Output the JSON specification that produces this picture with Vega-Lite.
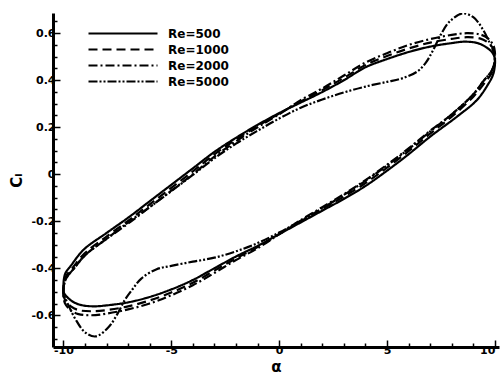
{
  "$schema": "https://vega.github.io/schema/vega-lite/v6.json",
  "width": 446,
  "height": 334,
  "autosize": {"type": "none"},
  "padding": {"left": 53, "top": 13, "right": 1, "bottom": 29},
  "background": "white",
  "config": {"view": {"stroke": null}},
  "data": {"values": [
    {"re":"Re=500","i":0,"alpha":-10,"cl":-0.50},
    {"re":"Re=500","i":1,"alpha":-9.98,"cl":-0.45},
    {"re":"Re=500","i":2,"alpha":-9.9,"cl":-0.42},
    {"re":"Re=500","i":3,"alpha":-9.66,"cl":-0.39},
    {"re":"Re=500","i":4,"alpha":-9.05,"cl":-0.32},
    {"re":"Re=500","i":5,"alpha":-8,"cl":-0.25},
    {"re":"Re=500","i":6,"alpha":-7,"cl":-0.185},
    {"re":"Re=500","i":7,"alpha":-6,"cl":-0.115},
    {"re":"Re=500","i":8,"alpha":-5,"cl":-0.045},
    {"re":"Re=500","i":9,"alpha":-4,"cl":0.025},
    {"re":"Re=500","i":10,"alpha":-3,"cl":0.095},
    {"re":"Re=500","i":11,"alpha":-2,"cl":0.155},
    {"re":"Re=500","i":12,"alpha":-1,"cl":0.21},
    {"re":"Re=500","i":13,"alpha":0,"cl":0.26},
    {"re":"Re=500","i":14,"alpha":1,"cl":0.305},
    {"re":"Re=500","i":15,"alpha":2,"cl":0.35},
    {"re":"Re=500","i":16,"alpha":3,"cl":0.40},
    {"re":"Re=500","i":17,"alpha":4,"cl":0.455},
    {"re":"Re=500","i":18,"alpha":5,"cl":0.49},
    {"re":"Re=500","i":19,"alpha":6,"cl":0.52},
    {"re":"Re=500","i":20,"alpha":7,"cl":0.543},
    {"re":"Re=500","i":21,"alpha":8,"cl":0.558},
    {"re":"Re=500","i":22,"alpha":8.6,"cl":0.564},
    {"re":"Re=500","i":23,"alpha":9.2,"cl":0.558},
    {"re":"Re=500","i":24,"alpha":9.6,"cl":0.54},
    {"re":"Re=500","i":25,"alpha":9.9,"cl":0.515},
    {"re":"Re=500","i":26,"alpha":10,"cl":0.49},
    {"re":"Re=500","i":27,"alpha":9.98,"cl":0.45},
    {"re":"Re=500","i":28,"alpha":9.9,"cl":0.42},
    {"re":"Re=500","i":29,"alpha":9.7,"cl":0.385},
    {"re":"Re=500","i":30,"alpha":9.17,"cl":0.316},
    {"re":"Re=500","i":31,"alpha":8.24,"cl":0.245},
    {"re":"Re=500","i":32,"alpha":7,"cl":0.16},
    {"re":"Re=500","i":33,"alpha":6,"cl":0.085},
    {"re":"Re=500","i":34,"alpha":5,"cl":0.015},
    {"re":"Re=500","i":35,"alpha":4,"cl":-0.05},
    {"re":"Re=500","i":36,"alpha":3,"cl":-0.105},
    {"re":"Re=500","i":37,"alpha":2,"cl":-0.155},
    {"re":"Re=500","i":38,"alpha":1,"cl":-0.205},
    {"re":"Re=500","i":39,"alpha":0,"cl":-0.255},
    {"re":"Re=500","i":40,"alpha":-1,"cl":-0.305},
    {"re":"Re=500","i":41,"alpha":-2,"cl":-0.35},
    {"re":"Re=500","i":42,"alpha":-3,"cl":-0.40},
    {"re":"Re=500","i":43,"alpha":-4,"cl":-0.45},
    {"re":"Re=500","i":44,"alpha":-5,"cl":-0.49},
    {"re":"Re=500","i":45,"alpha":-6,"cl":-0.522},
    {"re":"Re=500","i":46,"alpha":-7,"cl":-0.545},
    {"re":"Re=500","i":47,"alpha":-8,"cl":-0.558},
    {"re":"Re=500","i":48,"alpha":-8.6,"cl":-0.562},
    {"re":"Re=500","i":49,"alpha":-9.2,"cl":-0.556},
    {"re":"Re=500","i":50,"alpha":-9.6,"cl":-0.54},
    {"re":"Re=500","i":51,"alpha":-9.9,"cl":-0.515},
    {"re":"Re=500","i":52,"alpha":-10,"cl":-0.50},

    {"re":"Re=1000","i":0,"alpha":-10,"cl":-0.51},
    {"re":"Re=1000","i":1,"alpha":-9.97,"cl":-0.46},
    {"re":"Re=1000","i":2,"alpha":-9.85,"cl":-0.43},
    {"re":"Re=1000","i":3,"alpha":-9.55,"cl":-0.395},
    {"re":"Re=1000","i":4,"alpha":-9,"cl":-0.335},
    {"re":"Re=1000","i":5,"alpha":-8,"cl":-0.265},
    {"re":"Re=1000","i":6,"alpha":-7,"cl":-0.198},
    {"re":"Re=1000","i":7,"alpha":-6,"cl":-0.128},
    {"re":"Re=1000","i":8,"alpha":-5,"cl":-0.058},
    {"re":"Re=1000","i":9,"alpha":-4,"cl":0.012},
    {"re":"Re=1000","i":10,"alpha":-3,"cl":0.085},
    {"re":"Re=1000","i":11,"alpha":-2,"cl":0.148},
    {"re":"Re=1000","i":12,"alpha":-1,"cl":0.205},
    {"re":"Re=1000","i":13,"alpha":0,"cl":0.258},
    {"re":"Re=1000","i":14,"alpha":1,"cl":0.31},
    {"re":"Re=1000","i":15,"alpha":2,"cl":0.358},
    {"re":"Re=1000","i":16,"alpha":3,"cl":0.41},
    {"re":"Re=1000","i":17,"alpha":4,"cl":0.465},
    {"re":"Re=1000","i":18,"alpha":5,"cl":0.503},
    {"re":"Re=1000","i":19,"alpha":6,"cl":0.535},
    {"re":"Re=1000","i":20,"alpha":7,"cl":0.56},
    {"re":"Re=1000","i":21,"alpha":8,"cl":0.576},
    {"re":"Re=1000","i":22,"alpha":8.7,"cl":0.583},
    {"re":"Re=1000","i":23,"alpha":9.3,"cl":0.578},
    {"re":"Re=1000","i":24,"alpha":9.65,"cl":0.562},
    {"re":"Re=1000","i":25,"alpha":9.92,"cl":0.535},
    {"re":"Re=1000","i":26,"alpha":10,"cl":0.505},
    {"re":"Re=1000","i":27,"alpha":9.97,"cl":0.46},
    {"re":"Re=1000","i":28,"alpha":9.85,"cl":0.43},
    {"re":"Re=1000","i":29,"alpha":9.55,"cl":0.392},
    {"re":"Re=1000","i":30,"alpha":9,"cl":0.33},
    {"re":"Re=1000","i":31,"alpha":8,"cl":0.245},
    {"re":"Re=1000","i":32,"alpha":7,"cl":0.173},
    {"re":"Re=1000","i":33,"alpha":6,"cl":0.098},
    {"re":"Re=1000","i":34,"alpha":5,"cl":0.028},
    {"re":"Re=1000","i":35,"alpha":4,"cl":-0.038},
    {"re":"Re=1000","i":36,"alpha":3,"cl":-0.095},
    {"re":"Re=1000","i":37,"alpha":2,"cl":-0.148},
    {"re":"Re=1000","i":38,"alpha":1,"cl":-0.2},
    {"re":"Re=1000","i":39,"alpha":0,"cl":-0.255},
    {"re":"Re=1000","i":40,"alpha":-1,"cl":-0.31},
    {"re":"Re=1000","i":41,"alpha":-2,"cl":-0.358},
    {"re":"Re=1000","i":42,"alpha":-3,"cl":-0.41},
    {"re":"Re=1000","i":43,"alpha":-4,"cl":-0.462},
    {"re":"Re=1000","i":44,"alpha":-5,"cl":-0.503},
    {"re":"Re=1000","i":45,"alpha":-6,"cl":-0.537},
    {"re":"Re=1000","i":46,"alpha":-7,"cl":-0.562},
    {"re":"Re=1000","i":47,"alpha":-8,"cl":-0.578},
    {"re":"Re=1000","i":48,"alpha":-8.7,"cl":-0.583},
    {"re":"Re=1000","i":49,"alpha":-9.3,"cl":-0.578},
    {"re":"Re=1000","i":50,"alpha":-9.65,"cl":-0.562},
    {"re":"Re=1000","i":51,"alpha":-9.92,"cl":-0.535},
    {"re":"Re=1000","i":52,"alpha":-10,"cl":-0.51},

    {"re":"Re=2000","i":0,"alpha":-10,"cl":-0.52},
    {"re":"Re=2000","i":1,"alpha":-9.97,"cl":-0.47},
    {"re":"Re=2000","i":2,"alpha":-9.85,"cl":-0.44},
    {"re":"Re=2000","i":3,"alpha":-9.5,"cl":-0.40},
    {"re":"Re=2000","i":4,"alpha":-9,"cl":-0.345},
    {"re":"Re=2000","i":5,"alpha":-8,"cl":-0.275},
    {"re":"Re=2000","i":6,"alpha":-7,"cl":-0.21},
    {"re":"Re=2000","i":7,"alpha":-6,"cl":-0.14},
    {"re":"Re=2000","i":8,"alpha":-5,"cl":-0.07},
    {"re":"Re=2000","i":9,"alpha":-4,"cl":0.0},
    {"re":"Re=2000","i":10,"alpha":-3,"cl":0.075},
    {"re":"Re=2000","i":11,"alpha":-2,"cl":0.14},
    {"re":"Re=2000","i":12,"alpha":-1,"cl":0.20},
    {"re":"Re=2000","i":13,"alpha":0,"cl":0.255},
    {"re":"Re=2000","i":14,"alpha":1,"cl":0.315},
    {"re":"Re=2000","i":15,"alpha":2,"cl":0.365},
    {"re":"Re=2000","i":16,"alpha":3,"cl":0.42},
    {"re":"Re=2000","i":17,"alpha":4,"cl":0.475},
    {"re":"Re=2000","i":18,"alpha":5,"cl":0.515},
    {"re":"Re=2000","i":19,"alpha":6,"cl":0.55},
    {"re":"Re=2000","i":20,"alpha":7,"cl":0.575},
    {"re":"Re=2000","i":21,"alpha":8,"cl":0.593},
    {"re":"Re=2000","i":22,"alpha":8.7,"cl":0.60},
    {"re":"Re=2000","i":23,"alpha":9.3,"cl":0.595},
    {"re":"Re=2000","i":24,"alpha":9.65,"cl":0.58},
    {"re":"Re=2000","i":25,"alpha":9.92,"cl":0.55},
    {"re":"Re=2000","i":26,"alpha":10,"cl":0.52},
    {"re":"Re=2000","i":27,"alpha":9.97,"cl":0.47},
    {"re":"Re=2000","i":28,"alpha":9.85,"cl":0.44},
    {"re":"Re=2000","i":29,"alpha":9.5,"cl":0.40},
    {"re":"Re=2000","i":30,"alpha":9,"cl":0.34},
    {"re":"Re=2000","i":31,"alpha":8,"cl":0.255},
    {"re":"Re=2000","i":32,"alpha":7,"cl":0.185},
    {"re":"Re=2000","i":33,"alpha":6,"cl":0.11},
    {"re":"Re=2000","i":34,"alpha":5,"cl":0.04},
    {"re":"Re=2000","i":35,"alpha":4,"cl":-0.025},
    {"re":"Re=2000","i":36,"alpha":3,"cl":-0.085},
    {"re":"Re=2000","i":37,"alpha":2,"cl":-0.14},
    {"re":"Re=2000","i":38,"alpha":1,"cl":-0.195},
    {"re":"Re=2000","i":39,"alpha":0,"cl":-0.255},
    {"re":"Re=2000","i":40,"alpha":-1,"cl":-0.315},
    {"re":"Re=2000","i":41,"alpha":-2,"cl":-0.365},
    {"re":"Re=2000","i":42,"alpha":-3,"cl":-0.42},
    {"re":"Re=2000","i":43,"alpha":-4,"cl":-0.472},
    {"re":"Re=2000","i":44,"alpha":-5,"cl":-0.515},
    {"re":"Re=2000","i":45,"alpha":-6,"cl":-0.55},
    {"re":"Re=2000","i":46,"alpha":-7,"cl":-0.575},
    {"re":"Re=2000","i":47,"alpha":-8,"cl":-0.593},
    {"re":"Re=2000","i":48,"alpha":-8.7,"cl":-0.60},
    {"re":"Re=2000","i":49,"alpha":-9.3,"cl":-0.595},
    {"re":"Re=2000","i":50,"alpha":-9.65,"cl":-0.58},
    {"re":"Re=2000","i":51,"alpha":-9.92,"cl":-0.55},
    {"re":"Re=2000","i":52,"alpha":-10,"cl":-0.52},

    {"re":"Re=5000","i":0,"alpha":-10,"cl":-0.50},
    {"re":"Re=5000","i":1,"alpha":-9.97,"cl":-0.47},
    {"re":"Re=5000","i":2,"alpha":-9.85,"cl":-0.44},
    {"re":"Re=5000","i":3,"alpha":-9.5,"cl":-0.40},
    {"re":"Re=5000","i":4,"alpha":-9,"cl":-0.345},
    {"re":"Re=5000","i":5,"alpha":-8,"cl":-0.275},
    {"re":"Re=5000","i":6,"alpha":-7,"cl":-0.205},
    {"re":"Re=5000","i":7,"alpha":-6,"cl":-0.14},
    {"re":"Re=5000","i":8,"alpha":-5,"cl":-0.072},
    {"re":"Re=5000","i":9,"alpha":-4,"cl":-0.003},
    {"re":"Re=5000","i":10,"alpha":-3,"cl":0.068},
    {"re":"Re=5000","i":11,"alpha":-2,"cl":0.13},
    {"re":"Re=5000","i":12,"alpha":-1,"cl":0.185},
    {"re":"Re=5000","i":13,"alpha":0,"cl":0.237},
    {"re":"Re=5000","i":14,"alpha":1,"cl":0.283},
    {"re":"Re=5000","i":15,"alpha":2,"cl":0.318},
    {"re":"Re=5000","i":16,"alpha":3,"cl":0.348},
    {"re":"Re=5000","i":17,"alpha":4,"cl":0.373},
    {"re":"Re=5000","i":18,"alpha":5,"cl":0.393},
    {"re":"Re=5000","i":19,"alpha":5.7,"cl":0.408},
    {"re":"Re=5000","i":20,"alpha":6.4,"cl":0.437},
    {"re":"Re=5000","i":21,"alpha":6.8,"cl":0.475},
    {"re":"Re=5000","i":22,"alpha":7.15,"cl":0.53},
    {"re":"Re=5000","i":23,"alpha":7.5,"cl":0.595},
    {"re":"Re=5000","i":24,"alpha":7.9,"cl":0.65},
    {"re":"Re=5000","i":25,"alpha":8.5,"cl":0.684},
    {"re":"Re=5000","i":26,"alpha":9,"cl":0.668},
    {"re":"Re=5000","i":27,"alpha":9.45,"cl":0.615},
    {"re":"Re=5000","i":28,"alpha":9.75,"cl":0.56},
    {"re":"Re=5000","i":29,"alpha":9.92,"cl":0.525},
    {"re":"Re=5000","i":30,"alpha":10,"cl":0.50},
    {"re":"Re=5000","i":31,"alpha":9.97,"cl":0.47},
    {"re":"Re=5000","i":32,"alpha":9.85,"cl":0.44},
    {"re":"Re=5000","i":33,"alpha":9.5,"cl":0.40},
    {"re":"Re=5000","i":34,"alpha":9,"cl":0.34},
    {"re":"Re=5000","i":35,"alpha":8,"cl":0.255},
    {"re":"Re=5000","i":36,"alpha":7,"cl":0.182},
    {"re":"Re=5000","i":37,"alpha":6,"cl":0.107},
    {"re":"Re=5000","i":38,"alpha":5,"cl":0.037},
    {"re":"Re=5000","i":39,"alpha":4,"cl":-0.028},
    {"re":"Re=5000","i":40,"alpha":3,"cl":-0.088},
    {"re":"Re=5000","i":41,"alpha":2,"cl":-0.145},
    {"re":"Re=5000","i":42,"alpha":1,"cl":-0.198},
    {"re":"Re=5000","i":43,"alpha":0,"cl":-0.248},
    {"re":"Re=5000","i":44,"alpha":-1,"cl":-0.293},
    {"re":"Re=5000","i":45,"alpha":-2,"cl":-0.328},
    {"re":"Re=5000","i":46,"alpha":-3,"cl":-0.355},
    {"re":"Re=5000","i":47,"alpha":-4,"cl":-0.372},
    {"re":"Re=5000","i":48,"alpha":-5,"cl":-0.39},
    {"re":"Re=5000","i":49,"alpha":-5.7,"cl":-0.405},
    {"re":"Re=5000","i":50,"alpha":-6.4,"cl":-0.445},
    {"re":"Re=5000","i":51,"alpha":-6.8,"cl":-0.49},
    {"re":"Re=5000","i":52,"alpha":-7.15,"cl":-0.535},
    {"re":"Re=5000","i":53,"alpha":-7.5,"cl":-0.595},
    {"re":"Re=5000","i":54,"alpha":-7.9,"cl":-0.65},
    {"re":"Re=5000","i":55,"alpha":-8.5,"cl":-0.69},
    {"re":"Re=5000","i":56,"alpha":-9,"cl":-0.672},
    {"re":"Re=5000","i":57,"alpha":-9.45,"cl":-0.615},
    {"re":"Re=5000","i":58,"alpha":-9.75,"cl":-0.56},
    {"re":"Re=5000","i":59,"alpha":-9.92,"cl":-0.525},
    {"re":"Re=5000","i":60,"alpha":-10,"cl":-0.50}
  ]},
  "mark": {"type": "line", "interpolate": "catmull-rom", "strokeWidth": 2.2, "color": "black", "clip": true},
  "encoding": {
    "x": {
      "field": "alpha", "type": "quantitative",
      "scale": {"domain": [-10.48, 10.19], "nice": false, "zero": false},
      "axis": {
        "values": [-10,-9,-8,-7,-6,-5,-4,-3,-2,-1,0,1,2,3,4,5,6,7,8,9,10],
        "labelExpr": "datum.value % 5 === 0 ? '' + datum.value : ''",
        "tickSize": {"condition": {"test": "datum.value % 5 === 0", "value": -7}, "value": -4},
        "tickColor": "black", "tickWidth": 1.5,
        "domainColor": "black", "domainWidth": 3,
        "grid": false,
        "labelFont": "DejaVu Sans", "labelFontWeight": "bold", "labelFontSize": 11, "labelColor": "black",
        "labelPadding": 4, "labelFlush": 6, "labelOverlap": false,
        "title": "α", "titleFont": "DejaVu Sans", "titleFontWeight": "bold", "titleFontSize": 15, "titleColor": "black",
        "titlePadding": 1
      }
    },
    "y": {
      "field": "cl", "type": "quantitative",
      "scale": {"domain": [-0.735, 0.686], "nice": false, "zero": false},
      "axis": {
        "values": [-0.7,-0.65,-0.6,-0.55,-0.5,-0.45,-0.4,-0.35,-0.3,-0.25,-0.2,-0.15,-0.1,-0.05,0,0.05,0.1,0.15,0.2,0.25,0.3,0.35,0.4,0.45,0.5,0.55,0.6,0.65],
        "labelExpr": "abs(datum.value*5 - round(datum.value*5)) < 0.001 ? '' + round(datum.value*10)/10 : ''",
        "tickSize": {"condition": {"test": "abs(datum.value*5 - round(datum.value*5)) < 0.001", "value": -7}, "value": -4},
        "tickColor": "black", "tickWidth": 1.5,
        "domainColor": "black", "domainWidth": 3,
        "grid": false,
        "labelFont": "DejaVu Sans", "labelFontWeight": "bold", "labelFontSize": 11, "labelColor": "black",
        "labelPadding": 5, "labelFlush": false, "labelOverlap": false,
        "title": "Cₗ", "titleFont": "DejaVu Sans", "titleFontWeight": "bold", "titleFontSize": 15, "titleColor": "black",
        "titlePadding": 6
      }
    },
    "order": {"field": "i", "type": "quantitative"},
    "strokeDash": {
      "field": "re", "type": "nominal",
      "scale": {"domain": ["Re=500","Re=1000","Re=2000","Re=5000"], "range": [[1,0],[9,5],[9,3,2,3],[9,2,2,2,2,2]]},
      "legend": {
        "orient": "none", "legendX": 63.5, "legendY": 14, "title": null,
        "symbolType": "M-6.9,0L6.9,0", "symbolSize": 100, "symbolStrokeWidth": 2.2, "symbolStrokeColor": "black",
        "labelFont": "DejaVu Sans", "labelFontWeight": "bold", "labelFontSize": 12, "labelColor": "black",
        "labelOffset": 38.5, "rowPadding": 3, "padding": 0
      }
    }
  }
}
